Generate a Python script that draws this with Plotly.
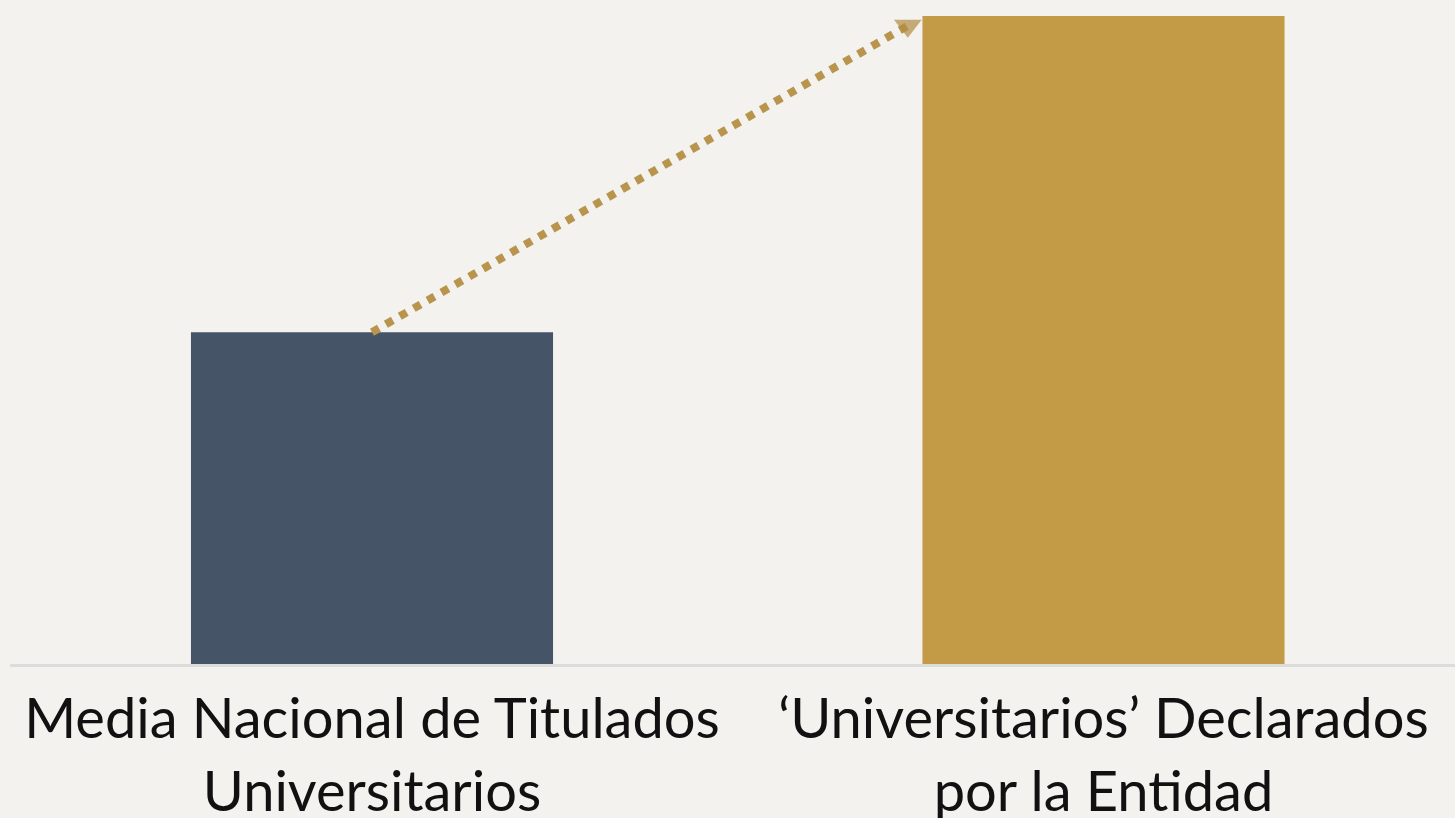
import plotly.graph_objects as go

categories = ["Media Nacional de Titulados<br>Universitarios",
              "‘Universitarios’ Declarados<br>por la Entidad"]
values = [51.2, 100]
bar_colors = ["#465468", "#c39a45"]

BG = "#f3f2ef"
BAR_W = 0.495

fig = go.Figure()
fig.add_trace(go.Bar(
    x=[0, 1], y=values, width=BAR_W,
    marker=dict(color=bar_colors, line=dict(width=0)),
    hoverinfo="skip", showlegend=False,
))

# dotted arrow from top of first bar to the top-left corner of the second bar
x_end = 1 - BAR_W / 2 - 0.02
y_end = values[1] - 1.5
fig.add_trace(go.Scatter(
    x=[0, x_end], y=[values[0], y_end],
    mode="lines+markers",
    line=dict(color="#b8944c", width=8, dash="8px,8px"),
    marker=dict(symbol=["circle", "triangle-down"], size=[0, 24],
                color="#b08c45", line=dict(width=0)),
    hoverinfo="skip", showlegend=False, cliponaxis=False,
))

W, H = 1455, 818
left_px = 10
c0 = 372
unit = 731.5

fig.update_layout(
    width=W, height=H,
    margin=dict(l=0, r=0, t=16, b=154, autoexpand=False),
    paper_bgcolor=BG, plot_bgcolor=BG,
    font=dict(family="Lato", color="#111111"),
    xaxis=dict(
        domain=[left_px / W, 1],
        range=[-(c0 - left_px) / unit, (W - c0) / unit],
        tickmode="array", tickvals=[0, 1], ticktext=categories,
        tickfont=dict(size=56, family="Lato", color="#111111"),
        showgrid=False, zeroline=False, automargin=False,
        showline=True, linecolor="#dcdcda", linewidth=3,
        ticks="", ticklabelstandoff=4,
    ),
    yaxis=dict(range=[0, 100], visible=False, showgrid=False, zeroline=False),
)

fig.write_html("out.html")
